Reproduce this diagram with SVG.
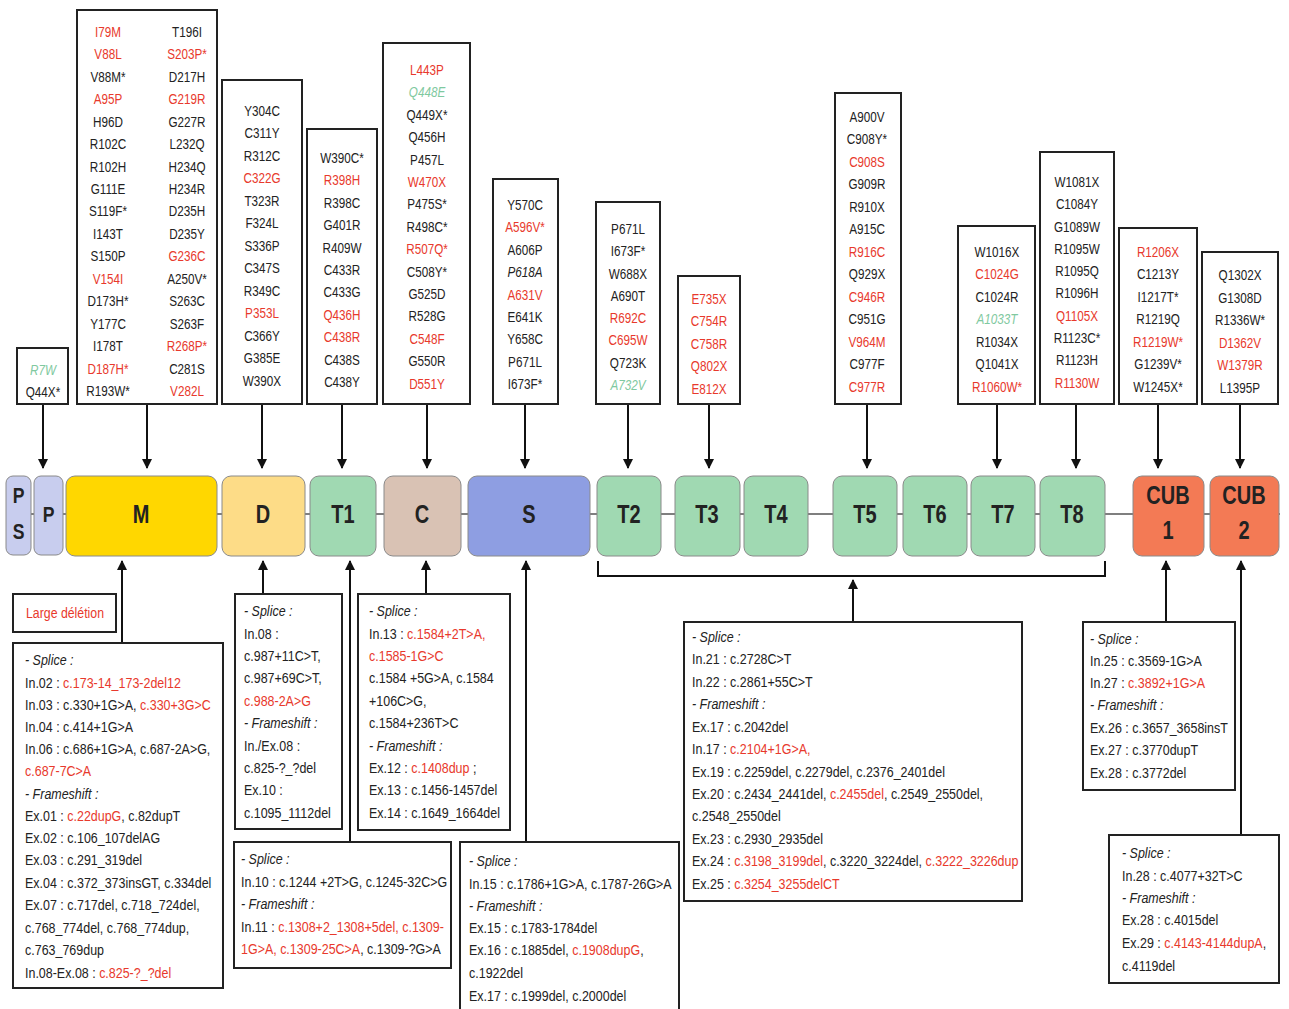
<svg xmlns="http://www.w3.org/2000/svg" width="1289" height="1009" viewBox="0 0 1289 1009">
<defs>
<marker id="ah" viewBox="0 0 10 10" refX="9" refY="5" markerWidth="10" markerHeight="10" markerUnits="userSpaceOnUse" orient="auto"><path d="M0,0 L10,5 L0,10 z" fill="#111"/></marker>
<style>
.box{fill:#fff;stroke:#222;stroke-width:2}
.t{font-family:"Liberation Sans",Arial,sans-serif;font-size:15px;fill:#222}
.b{font-size:14.5px}
.c{text-anchor:middle}
.r{fill:#e8392c}
.g{fill:#7fc9a0;font-style:italic}
.i{font-style:italic}
.dom{stroke:#8a8a8a;stroke-width:1}
.lab{font-family:"Liberation Sans",Arial,sans-serif;font-size:25px;font-weight:bold;fill:#222;text-anchor:middle}
.ln{stroke:#111;stroke-width:2;fill:none}
.ar{stroke:#111;stroke-width:2;fill:none;marker-end:url(#ah)}
</style>
</defs>
<rect width="1289" height="1009" fill="#fff"/>

<g id="connectors">
<line x1="6" y1="514" x2="1280" y2="514" stroke="#555" stroke-width="1.5"/>
<line class="ar" x1="43" y1="404" x2="43" y2="468"/>
<line class="ar" x1="147" y1="404" x2="147" y2="468"/>
<line class="ar" x1="262" y1="404" x2="262" y2="468"/>
<line class="ar" x1="342" y1="404" x2="342" y2="468"/>
<line class="ar" x1="427" y1="404" x2="427" y2="468"/>
<line class="ar" x1="525" y1="404" x2="525" y2="468"/>
<line class="ar" x1="628" y1="404" x2="628" y2="468"/>
<line class="ar" x1="709" y1="404" x2="709" y2="468"/>
<line class="ar" x1="867" y1="404" x2="867" y2="468"/>
<line class="ar" x1="997" y1="404" x2="997" y2="468"/>
<line class="ar" x1="1076" y1="404" x2="1076" y2="468"/>
<line class="ar" x1="1158" y1="404" x2="1158" y2="468"/>
<line class="ar" x1="1240" y1="404" x2="1240" y2="468"/>
<line class="ar" x1="122" y1="643" x2="122" y2="561"/>
<line class="ar" x1="263" y1="594" x2="263" y2="561"/>
<line class="ar" x1="350" y1="842" x2="350" y2="561"/>
<line class="ar" x1="426" y1="594" x2="426" y2="561"/>
<line class="ar" x1="526" y1="842" x2="526" y2="561"/>
<path class="ln" d="M598,561 V576 H1105 V561"/>
<line class="ar" x1="853" y1="622" x2="853" y2="580"/>
<line class="ar" x1="1166" y1="622" x2="1166" y2="561"/>
<line class="ar" x1="1241" y1="835" x2="1241" y2="561"/>
</g>

<g id="domain-PS"><rect class="dom" x="6" y="476" width="25" height="79" rx="7" fill="#c8cdee"/><text class="lab" transform="translate(18.5 503) scale(.8 1)" style="font-size:22px">P</text><text class="lab" transform="translate(18.5 539) scale(.8 1)" style="font-size:22px">S</text></g>
<g id="domain-P"><rect class="dom" x="34" y="476" width="29" height="79" rx="7" fill="#c8cdee"/><text class="lab" transform="translate(48.5 522) scale(.8 1)" style="font-size:22px">P</text></g>
<g id="domain-M"><rect class="dom" x="66" y="476" width="151" height="80" rx="9" fill="#ffd700"/><text class="lab" transform="translate(141 523) scale(.8 1)">M</text></g>
<g id="domain-D"><rect class="dom" x="222" y="476" width="83" height="80" rx="9" fill="#fddc87"/><text class="lab" transform="translate(263 523) scale(.8 1)">D</text></g>
<g id="domain-T1"><rect class="dom" x="310" y="476" width="66" height="80" rx="9" fill="#a0d9b2"/><text class="lab" transform="translate(343 523) scale(.8 1)">T1</text></g>
<g id="domain-C"><rect class="dom" x="384" y="476" width="77" height="80" rx="9" fill="#d9c2b4"/><text class="lab" transform="translate(422 523) scale(.8 1)">C</text></g>
<g id="domain-S"><rect class="dom" x="468" y="476" width="122" height="80" rx="9" fill="#8e9ee2"/><text class="lab" transform="translate(529 523) scale(.8 1)">S</text></g>
<g id="domain-T2"><rect class="dom" x="597" y="476" width="64" height="80" rx="9" fill="#a0d9b2"/><text class="lab" transform="translate(629 523) scale(.8 1)">T2</text></g>
<g id="domain-T3"><rect class="dom" x="675" y="476" width="65" height="80" rx="9" fill="#a0d9b2"/><text class="lab" transform="translate(707 523) scale(.8 1)">T3</text></g>
<g id="domain-T4"><rect class="dom" x="744" y="476" width="64" height="80" rx="9" fill="#a0d9b2"/><text class="lab" transform="translate(776 523) scale(.8 1)">T4</text></g>
<g id="domain-T5"><rect class="dom" x="833" y="476" width="64" height="80" rx="9" fill="#a0d9b2"/><text class="lab" transform="translate(865 523) scale(.8 1)">T5</text></g>
<g id="domain-T6"><rect class="dom" x="903" y="476" width="64" height="80" rx="9" fill="#a0d9b2"/><text class="lab" transform="translate(935 523) scale(.8 1)">T6</text></g>
<g id="domain-T7"><rect class="dom" x="971" y="476" width="64" height="80" rx="9" fill="#a0d9b2"/><text class="lab" transform="translate(1003 523) scale(.8 1)">T7</text></g>
<g id="domain-T8"><rect class="dom" x="1040" y="476" width="65" height="80" rx="9" fill="#a0d9b2"/><text class="lab" transform="translate(1072 523) scale(.8 1)">T8</text></g>
<g id="domain-CUB1"><rect class="dom" x="1133" y="476" width="71" height="80" rx="9" fill="#f37a55"/><text class="lab" transform="translate(1168 504) scale(.8 1)">CUB</text><text class="lab" transform="translate(1168 539) scale(.8 1)">1</text></g>
<g id="domain-CUB2"><rect class="dom" x="1210" y="476" width="69" height="80" rx="9" fill="#f37a55"/><text class="lab" transform="translate(1244 504) scale(.8 1)">CUB</text><text class="lab" transform="translate(1244 539) scale(.8 1)">2</text></g>

<g id="mut-PS">
<rect class="box" x="17" y="348" width="51" height="56"/>
<text class="t c" transform="translate(43 0) scale(.78 1)"><tspan x="0" y="375" class="g">R7W</tspan><tspan x="0" y="397">Q44X*</tspan></text>
</g>

<g id="mut-M">
<rect class="box" x="77" y="10" width="140" height="394"/>
<text class="t c" transform="translate(108 0) scale(.78 1)">
<tspan x="0" y="37" class="r">I79M</tspan><tspan x="0" y="59.4" class="r">V88L</tspan><tspan x="0" y="81.9">V88M*</tspan><tspan x="0" y="104.3" class="r">A95P</tspan><tspan x="0" y="126.8">H96D</tspan><tspan x="0" y="149.2">R102C</tspan><tspan x="0" y="171.6">R102H</tspan><tspan x="0" y="194.1">G111E</tspan><tspan x="0" y="216.5">S119F*</tspan><tspan x="0" y="239">I143T</tspan><tspan x="0" y="261.4">S150P</tspan><tspan x="0" y="283.8" class="r">V154I</tspan><tspan x="0" y="306.3">D173H*</tspan><tspan x="0" y="328.7">Y177C</tspan><tspan x="0" y="351.2">I178T</tspan><tspan x="0" y="373.6" class="r">D187H*</tspan><tspan x="0" y="396">R193W*</tspan>
</text>
<text class="t c" transform="translate(187 0) scale(.78 1)">
<tspan x="0" y="37">T196I</tspan><tspan x="0" y="59.4" class="r">S203P*</tspan><tspan x="0" y="81.9">D217H</tspan><tspan x="0" y="104.3" class="r">G219R</tspan><tspan x="0" y="126.8">G227R</tspan><tspan x="0" y="149.2">L232Q</tspan><tspan x="0" y="171.6">H234Q</tspan><tspan x="0" y="194.1">H234R</tspan><tspan x="0" y="216.5">D235H</tspan><tspan x="0" y="239">D235Y</tspan><tspan x="0" y="261.4" class="r">G236C</tspan><tspan x="0" y="283.8">A250V*</tspan><tspan x="0" y="306.3">S263C</tspan><tspan x="0" y="328.7">S263F</tspan><tspan x="0" y="351.2" class="r">R268P*</tspan><tspan x="0" y="373.6">C281S</tspan><tspan x="0" y="396" class="r">V282L</tspan>
</text>
</g>

<g id="mut-D">
<rect class="box" x="222" y="80" width="80" height="324"/>
<text class="t c" transform="translate(262 0) scale(.78 1)">
<tspan x="0" y="116">Y304C</tspan><tspan x="0" y="138.5">C311Y</tspan><tspan x="0" y="161">R312C</tspan><tspan x="0" y="183.5" class="r">C322G</tspan><tspan x="0" y="206">T323R</tspan><tspan x="0" y="228.5">F324L</tspan><tspan x="0" y="251">S336P</tspan><tspan x="0" y="273.5">C347S</tspan><tspan x="0" y="296">R349C</tspan><tspan x="0" y="318.5" class="r">P353L</tspan><tspan x="0" y="341">C366Y</tspan><tspan x="0" y="363.5">G385E</tspan><tspan x="0" y="386">W390X</tspan>
</text>
</g>

<g id="mut-T1">
<rect class="box" x="307" y="129" width="70" height="275"/>
<text class="t c" transform="translate(342 0) scale(.78 1)">
<tspan x="0" y="163">W390C*</tspan><tspan x="0" y="185.4" class="r">R398H</tspan><tspan x="0" y="207.8">R398C</tspan><tspan x="0" y="230.2">G401R</tspan><tspan x="0" y="252.6">R409W</tspan><tspan x="0" y="275">C433R</tspan><tspan x="0" y="297.4">C433G</tspan><tspan x="0" y="319.8" class="r">Q436H</tspan><tspan x="0" y="342.2" class="r">C438R</tspan><tspan x="0" y="364.6">C438S</tspan><tspan x="0" y="387">C438Y</tspan>
</text>
</g>

<g id="mut-C">
<rect class="box" x="383" y="43" width="87" height="361"/>
<text class="t c" transform="translate(427 0) scale(.78 1)">
<tspan x="0" y="75" class="r">L443P</tspan><tspan x="0" y="97.4" class="g">Q448E</tspan><tspan x="0" y="119.8">Q449X*</tspan><tspan x="0" y="142.2">Q456H</tspan><tspan x="0" y="164.6">P457L</tspan><tspan x="0" y="187" class="r">W470X</tspan><tspan x="0" y="209.4">P475S*</tspan><tspan x="0" y="231.8">R498C*</tspan><tspan x="0" y="254.2" class="r">R507Q*</tspan><tspan x="0" y="276.6">C508Y*</tspan><tspan x="0" y="299">G525D</tspan><tspan x="0" y="321.4">R528G</tspan><tspan x="0" y="343.8" class="r">C548F</tspan><tspan x="0" y="366.2">G550R</tspan><tspan x="0" y="388.6" class="r">D551Y</tspan>
</text>
</g>

<g id="mut-S">
<rect class="box" x="493" y="179" width="65" height="225"/>
<text class="t c" transform="translate(525 0) scale(.78 1)">
<tspan x="0" y="210">Y570C</tspan><tspan x="0" y="232.4" class="r">A596V*</tspan><tspan x="0" y="254.8">A606P</tspan><tspan x="0" y="277.2" class="i">P618A</tspan><tspan x="0" y="299.6" class="r">A631V</tspan><tspan x="0" y="322">E641K</tspan><tspan x="0" y="344.4">Y658C</tspan><tspan x="0" y="366.8">P671L</tspan><tspan x="0" y="389.2">I673F*</tspan>
</text>
</g>

<g id="mut-T2">
<rect class="box" x="596" y="202" width="64" height="202"/>
<text class="t c" transform="translate(628 0) scale(.78 1)">
<tspan x="0" y="234">P671L</tspan><tspan x="0" y="256.3">I673F*</tspan><tspan x="0" y="278.6">W688X</tspan><tspan x="0" y="300.9">A690T</tspan><tspan x="0" y="323.2" class="r">R692C</tspan><tspan x="0" y="345.5" class="r">C695W</tspan><tspan x="0" y="367.8">Q723K</tspan><tspan x="0" y="390.1" class="g">A732V</tspan>
</text>
</g>

<g id="mut-T3">
<rect class="box" x="678" y="276" width="62" height="128"/>
<text class="t c" transform="translate(709 0) scale(.78 1)">
<tspan x="0" y="304" class="r">E735X</tspan><tspan x="0" y="326.5" class="r">C754R</tspan><tspan x="0" y="349" class="r">C758R</tspan><tspan x="0" y="371.5" class="r">Q802X</tspan><tspan x="0" y="394" class="r">E812X</tspan>
</text>
</g>

<g id="mut-T5">
<rect class="box" x="835" y="93" width="66" height="311"/>
<text class="t c" transform="translate(867 0) scale(.78 1)">
<tspan x="0" y="122">A900V</tspan><tspan x="0" y="144.5">C908Y*</tspan><tspan x="0" y="167" class="r">C908S</tspan><tspan x="0" y="189.5">G909R</tspan><tspan x="0" y="212">R910X</tspan><tspan x="0" y="234.5">A915C</tspan><tspan x="0" y="257" class="r">R916C</tspan><tspan x="0" y="279.5">Q929X</tspan><tspan x="0" y="302" class="r">C946R</tspan><tspan x="0" y="324.5">C951G</tspan><tspan x="0" y="347" class="r">V964M</tspan><tspan x="0" y="369.5">C977F</tspan><tspan x="0" y="392" class="r">C977R</tspan>
</text>
</g>

<g id="mut-T7">
<rect class="box" x="958" y="226" width="77" height="178"/>
<text class="t c" transform="translate(997 0) scale(.78 1)">
<tspan x="0" y="257">W1016X</tspan><tspan x="0" y="279.5" class="r">C1024G</tspan><tspan x="0" y="302">C1024R</tspan><tspan x="0" y="324.5" class="g">A1033T</tspan><tspan x="0" y="347">R1034X</tspan><tspan x="0" y="369.5">Q1041X</tspan><tspan x="0" y="392" class="r">R1060W*</tspan>
</text>
</g>

<g id="mut-T8">
<rect class="box" x="1040" y="152" width="74" height="252"/>
<text class="t c" transform="translate(1077 0) scale(.78 1)">
<tspan x="0" y="187">W1081X</tspan><tspan x="0" y="209.3">C1084Y</tspan><tspan x="0" y="231.6">G1089W</tspan><tspan x="0" y="253.9">R1095W</tspan><tspan x="0" y="276.2">R1095Q</tspan><tspan x="0" y="298.5">R1096H</tspan><tspan x="0" y="320.8" class="r">Q1105X</tspan><tspan x="0" y="343.1">R1123C*</tspan><tspan x="0" y="365.4">R1123H</tspan><tspan x="0" y="387.7" class="r">R1130W</tspan>
</text>
</g>

<g id="mut-CUB1">
<rect class="box" x="1119" y="228" width="78" height="176"/>
<text class="t c" transform="translate(1158 0) scale(.78 1)">
<tspan x="0" y="257" class="r">R1206X</tspan><tspan x="0" y="279.5">C1213Y</tspan><tspan x="0" y="302">I1217T*</tspan><tspan x="0" y="324.5">R1219Q</tspan><tspan x="0" y="347" class="r">R1219W*</tspan><tspan x="0" y="369.5">G1239V*</tspan><tspan x="0" y="392">W1245X*</tspan>
</text>
</g>

<g id="mut-CUB2">
<rect class="box" x="1202" y="252" width="76" height="152"/>
<text class="t c" transform="translate(1240 0) scale(.78 1)">
<tspan x="0" y="280">Q1302X</tspan><tspan x="0" y="302.6">G1308D</tspan><tspan x="0" y="325.2">R1336W*</tspan><tspan x="0" y="347.8" class="r">D1362V</tspan><tspan x="0" y="370.4" class="r">W1379R</tspan><tspan x="0" y="393">L1395P</tspan>
</text>
</g>

<g id="large-deletion">
<rect class="box" x="13" y="594" width="103" height="38"/>
<text class="t b r" transform="translate(26 618) scale(.85 1)">Large délétion</text>
</g>

<g id="var-M">
<rect class="box" x="13" y="643" width="210" height="345"/>
<text class="t b" transform="translate(25 0) scale(.86 1)">
<tspan x="0" y="665" class="i">- Splice :</tspan>
<tspan x="0" y="688">In.02 : <tspan class="r">c.173-14_173-2del12</tspan></tspan>
<tspan x="0" y="710">In.03 : c.330+1G&gt;A, <tspan class="r">c.330+3G&gt;C</tspan></tspan>
<tspan x="0" y="732">In.04 : c.414+1G&gt;A</tspan>
<tspan x="0" y="754">In.06 : c.686+1G&gt;A, c.687-2A&gt;G,</tspan>
<tspan x="0" y="776" class="r">c.687-7C&gt;A</tspan>
<tspan x="0" y="799" class="i">- Frameshift :</tspan>
<tspan x="0" y="821">Ex.01 : <tspan class="r">c.22dupG</tspan>, c.82dupT</tspan>
<tspan x="0" y="843">Ex.02 : c.106_107delAG</tspan>
<tspan x="0" y="865">Ex.03 : c.291_319del</tspan>
<tspan x="0" y="888">Ex.04 : c.372_373insGT, c.334del</tspan>
<tspan x="0" y="910">Ex.07 : c.717del, c.718_724del,</tspan>
<tspan x="0" y="933">c.768_774del, c.768_774dup,</tspan>
<tspan x="0" y="955">c.763_769dup</tspan>
<tspan x="0" y="978">In.08-Ex.08 : <tspan class="r">c.825-?_?del</tspan></tspan>
</text>
</g>

<g id="var-D">
<rect class="box" x="235" y="594" width="107" height="235"/>
<text class="t b" transform="translate(244 0) scale(.86 1)">
<tspan x="0" y="616" class="i">- Splice :</tspan>
<tspan x="0" y="639">In.08 :</tspan>
<tspan x="0" y="661">c.987+11C&gt;T,</tspan>
<tspan x="0" y="683">c.987+69C&gt;T,</tspan>
<tspan x="0" y="706" class="r">c.988-2A&gt;G</tspan>
<tspan x="0" y="728" class="i">- Frameshift :</tspan>
<tspan x="0" y="751">In./Ex.08 :</tspan>
<tspan x="0" y="773">c.825-?_?del</tspan>
<tspan x="0" y="795">Ex.10 :</tspan>
<tspan x="0" y="818">c.1095_1112del</tspan>
</text>
</g>

<g id="var-C">
<rect class="box" x="358" y="594" width="152" height="236"/>
<text class="t b" transform="translate(369 0) scale(.86 1)">
<tspan x="0" y="616" class="i">- Splice :</tspan>
<tspan x="0" y="639">In.13 : <tspan class="r">c.1584+2T&gt;A,</tspan></tspan>
<tspan x="0" y="661" class="r">c.1585-1G&gt;C</tspan>
<tspan x="0" y="683">c.1584 +5G&gt;A, c.1584</tspan>
<tspan x="0" y="706">+106C&gt;G,</tspan>
<tspan x="0" y="728">c.1584+236T&gt;C</tspan>
<tspan x="0" y="751" class="i">- Frameshift :</tspan>
<tspan x="0" y="773">Ex.12 : <tspan class="r">c.1408dup</tspan> ;</tspan>
<tspan x="0" y="795">Ex.13 : c.1456-1457del</tspan>
<tspan x="0" y="818">Ex.14 : c.1649_1664del</tspan>
</text>
</g>

<g id="var-T1">
<rect class="box" x="234" y="842" width="217" height="126"/>
<text class="t b" transform="translate(241 0) scale(.86 1)">
<tspan x="0" y="864" class="i">- Splice :</tspan>
<tspan x="0" y="887">In.10 : c.1244 +2T&gt;G, c.1245-32C&gt;G</tspan>
<tspan x="0" y="909" class="i">- Frameshift :</tspan>
<tspan x="0" y="932">In.11 : <tspan class="r">c.1308+2_1308+5del, c.1309-</tspan></tspan>
<tspan x="0" y="954"><tspan class="r">1G&gt;A, c.1309-25C&gt;A</tspan>, c.1309-?G&gt;A</tspan>
</text>
</g>

<g id="var-S">
<rect class="box" x="460" y="842" width="219" height="175"/>
<text class="t b" transform="translate(469 0) scale(.86 1)">
<tspan x="0" y="866" class="i">- Splice :</tspan>
<tspan x="0" y="889">In.15 : c.1786+1G&gt;A, c.1787-26G&gt;A</tspan>
<tspan x="0" y="911" class="i">- Frameshift :</tspan>
<tspan x="0" y="933">Ex.15 : c.1783-1784del</tspan>
<tspan x="0" y="955">Ex.16 : c.1885del, <tspan class="r">c.1908dupG</tspan>,</tspan>
<tspan x="0" y="978">c.1922del</tspan>
<tspan x="0" y="1001">Ex.17 : c.1999del, c.2000del</tspan>
</text>
</g>

<g id="var-T2-T8">
<rect class="box" x="684" y="622" width="338" height="279"/>
<text class="t b" transform="translate(692 0) scale(.86 1)">
<tspan x="0" y="642" class="i">- Splice :</tspan>
<tspan x="0" y="664">In.21 : c.2728C&gt;T</tspan>
<tspan x="0" y="687">In.22 : c.2861+55C&gt;T</tspan>
<tspan x="0" y="709" class="i">- Frameshift :</tspan>
<tspan x="0" y="732">Ex.17 : c.2042del</tspan>
<tspan x="0" y="754">In.17 : <tspan class="r">c.2104+1G&gt;A,</tspan></tspan>
<tspan x="0" y="777">Ex.19 : c.2259del, c.2279del, c.2376_2401del</tspan>
<tspan x="0" y="799">Ex.20 : c.2434_2441del, <tspan class="r">c.2455del</tspan>, c.2549_2550del,</tspan>
<tspan x="0" y="821">c.2548_2550del</tspan>
<tspan x="0" y="844">Ex.23 : c.2930_2935del</tspan>
<tspan x="0" y="866">Ex.24 : <tspan class="r">c.3198_3199del</tspan>, c.3220_3224del, <tspan class="r">c.3222_3226dup</tspan></tspan>
<tspan x="0" y="889">Ex.25 : <tspan class="r">c.3254_3255delCT</tspan></tspan>
</text>
</g>

<g id="var-CUB1">
<rect class="box" x="1083" y="622" width="152" height="168"/>
<text class="t b" transform="translate(1090 0) scale(.86 1)">
<tspan x="0" y="644" class="i">- Splice :</tspan>
<tspan x="0" y="666">In.25 : c.3569-1G&gt;A</tspan>
<tspan x="0" y="688">In.27 : <tspan class="r">c.3892+1G&gt;A</tspan></tspan>
<tspan x="0" y="710" class="i">- Frameshift :</tspan>
<tspan x="0" y="733">Ex.26 : c.3657_3658insT</tspan>
<tspan x="0" y="755">Ex.27 : c.3770dupT</tspan>
<tspan x="0" y="778">Ex.28 : c.3772del</tspan>
</text>
</g>

<g id="var-CUB2">
<rect class="box" x="1109" y="835" width="170" height="148"/>
<text class="t b" transform="translate(1122 0) scale(.86 1)">
<tspan x="0" y="858" class="i">- Splice :</tspan>
<tspan x="0" y="881">In.28 : c.4077+32T&gt;C</tspan>
<tspan x="0" y="903" class="i">- Frameshift :</tspan>
<tspan x="0" y="925">Ex.28 : c.4015del</tspan>
<tspan x="0" y="948">Ex.29 : <tspan class="r">c.4143-4144dupA</tspan>,</tspan>
<tspan x="0" y="971">c.4119del</tspan>
</text>
</g>
</svg>
